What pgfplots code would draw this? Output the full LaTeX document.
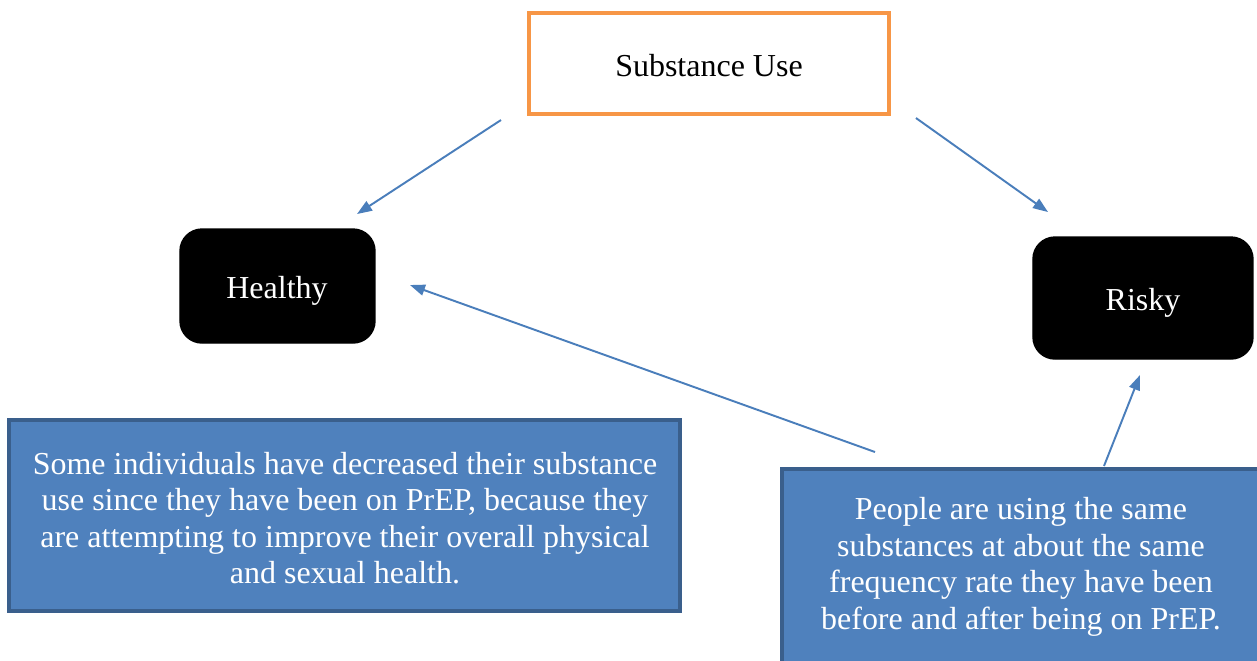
\documentclass[border=0pt]{standalone}
\usepackage{pgfplots}
\pgfplotsset{compat=1.18}
\usepackage{fontspec}
\setmainfont{Liberation Serif}
\usetikzlibrary{arrows.meta}
\definecolor{orng}{HTML}{F79646}
\definecolor{boxblue}{HTML}{4F81BD}
\definecolor{boxedge}{HTML}{3A5F8C}
\definecolor{arr}{HTML}{4A7EBB}
\begin{document}
\begin{tikzpicture}
\useasboundingbox (0,0) rectangle (12.57cm,6.6cm);
\clip (0,0) rectangle (12.57cm,6.6cm);
\begin{axis}[
    scale only axis,
    width=12.57cm, height=6.6cm,
    xmin=0, xmax=1257, ymin=0, ymax=660,
    y dir=reverse,
    hide axis,
    clip=false,
    link/.style={arr, line width=0.55pt, mark=none,
        -{Triangle[length=1.5mm,width=1.1mm]}},
]
  % boxes (pixel coordinates, y downwards)
  \draw[orng, line width=1.1pt, fill=white] (axis cs:529,13) rectangle (axis cs:889,114);
  \draw[black, fill=black, rounded corners=2.2mm] (axis cs:180,229) rectangle (axis cs:375,343);
  \draw[black, fill=black, rounded corners=2.2mm] (axis cs:1033,237) rectangle (axis cs:1253,359);
  \draw[boxedge, fill=boxblue, line width=0.9pt] (axis cs:9,420) rectangle (axis cs:680,611);
  \draw[boxedge, fill=boxblue, line width=0.9pt] (axis cs:782,469) rectangle (axis cs:1275,680);

  % arrows
  \addplot[link] coordinates {(501,120) (357,214)};
  \addplot[link] coordinates {(916,118) (1048,212)};
  \addplot[link] coordinates {(875,452) (410,285)};
  \addplot[link] coordinates {(1104,466) (1140,375)};

  % labels
  \begin{scope}[every node/.style={font=\fontsize{9.1}{10.4}\selectfont, align=center, inner sep=0pt}]
  \node at (axis cs:709,66) {Substance Use};
  \node[white] at (axis cs:277,291) {Healthy};
  \node[white] at (axis cs:1143,303) {Risky};
  \node[white] at (axis cs:345,518) {Some individuals have decreased their substance\\
    use since they have been on PrEP, because they\\
    are attempting to improve their overall physical\\
    and sexual health.};
  \node[white] at (axis cs:1021,567) {People are using the same\\
    substances at about the same\\
    frequency rate they have been\\
    before and after being on PrEP.};
  \end{scope}
\end{axis}
\end{tikzpicture}
\end{document}
